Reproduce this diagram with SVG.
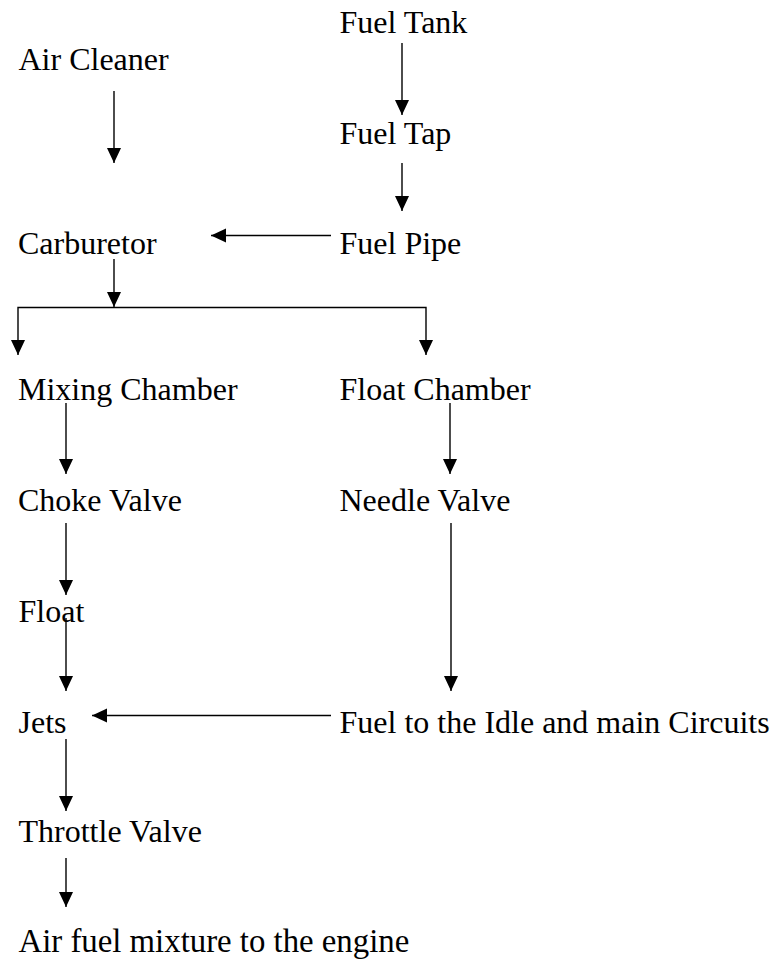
<svg xmlns="http://www.w3.org/2000/svg" width="773" height="959" viewBox="0 0 773 959">
<style>
text{font-family:"Liberation Serif","Times New Roman",serif;font-size:32px;fill:#000}
.c line,.c polyline{stroke:#000;stroke-width:1.4;fill:none}
</style>
<defs>
<marker id="ah" markerUnits="userSpaceOnUse" markerWidth="16" markerHeight="15" refX="15" refY="7" orient="auto-start-reverse">
<path d="M0,0 L15,7 L0,14 z" fill="#000"/>
</marker>
</defs>
<rect width="773" height="959" fill="#fff"/>
<g class="c" id="connectors">
<line x1="114" y1="91" x2="114" y2="163" marker-end="url(#ah)"/>
<line x1="402" y1="43" x2="402" y2="115" marker-end="url(#ah)"/>
<line x1="402" y1="163" x2="402" y2="211" marker-end="url(#ah)"/>
<line x1="331" y1="235.5" x2="211" y2="235.5" marker-end="url(#ah)"/>
<line x1="114" y1="259" x2="114" y2="307" marker-end="url(#ah)"/>
<polyline points="18,355 18,307.5 426,307.5 426,355" marker-start="url(#ah)" marker-end="url(#ah)"/>
<line x1="66" y1="403" x2="66" y2="474" marker-end="url(#ah)"/>
<line x1="450" y1="403" x2="450" y2="474" marker-end="url(#ah)"/>
<line x1="66" y1="523" x2="66" y2="595" marker-end="url(#ah)"/>
<line x1="451" y1="523" x2="451" y2="691" marker-end="url(#ah)"/>
<line x1="66" y1="618" x2="66" y2="691" marker-end="url(#ah)"/>
<line x1="331" y1="715.5" x2="92" y2="715.5" marker-end="url(#ah)"/>
<line x1="66" y1="739" x2="66" y2="811" marker-end="url(#ah)"/>
<line x1="66" y1="858" x2="66" y2="907" marker-end="url(#ah)"/>
</g>
<g id="fuel-tank"><text x="339.5" y="33">Fuel Tank</text></g>
<g id="air-cleaner"><text x="18.5" y="70">Air Cleaner</text></g>
<g id="fuel-tap"><text x="339.5" y="144">Fuel Tap</text></g>
<g id="carburetor"><text x="18" y="254">Carburetor</text></g>
<g id="fuel-pipe"><text x="339.5" y="254">Fuel Pipe</text></g>
<g id="mixing-chamber"><text x="18" y="400">Mixing Chamber</text></g>
<g id="float-chamber"><text x="339.5" y="400">Float Chamber</text></g>
<g id="choke-valve"><text x="18" y="511">Choke Valve</text></g>
<g id="needle-valve"><text x="339.5" y="511">Needle Valve</text></g>
<g id="float"><text x="18.5" y="622">Float</text></g>
<g id="jets"><text x="18.5" y="732.5">Jets</text></g>
<g id="fuel-circuits"><text x="339.5" y="732.5">Fuel to the Idle and main Circuits</text></g>
<g id="throttle-valve"><text x="18.5" y="842">Throttle Valve</text></g>
<g id="air-fuel-mixture"><text x="18.5" y="951.5" style="font-size:32.8px">Air fuel mixture to the engine</text></g>
</svg>
